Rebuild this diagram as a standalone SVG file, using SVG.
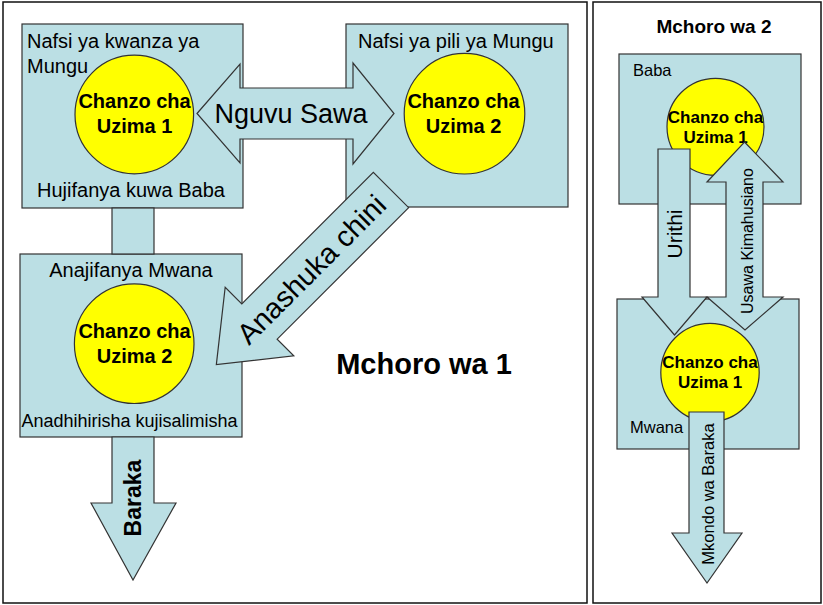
<svg xmlns="http://www.w3.org/2000/svg" width="823" height="605" viewBox="0 0 823 605">
<style>
.frame{fill:#ffffff;stroke:#111111;stroke-width:1.5}
.box{fill:#bbdfe4;stroke:#333333;stroke-width:1.2}
.circ{fill:#ffff00;stroke:#333333;stroke-width:1.2}
.arr{fill:#bbdfe4;stroke:#333333;stroke-width:1.2;stroke-linejoin:miter}
text{font-family:"Liberation Sans",Arial,Helvetica,sans-serif;fill:#000000}
.lbl{font-size:20px}
.ct{font-size:20px;font-weight:bold;text-anchor:middle}
.cts{font-size:17px;font-weight:bold;text-anchor:middle}
.mid{text-anchor:middle}
</style>
<rect class="frame" x="3" y="2" width="584" height="601"/>
<rect class="frame" x="593" y="2" width="228" height="601"/>

<g id="nodes">
  <g id="box1">
    <rect class="box" x="22" y="24" width="221" height="184"/>
    <text class="lbl" x="27" y="48">Nafsi ya kwanza ya</text>
    <text class="lbl" x="27" y="73">Mungu</text>
    <circle class="circ" cx="134.3" cy="114.5" r="59.3"/>
    <text class="ct" x="134.5" y="108">Chanzo cha</text>
    <text class="ct" x="134.5" y="133">Uzima 1</text>
    <text class="lbl mid" x="131" y="197">Hujifanya kuwa Baba</text>
  </g>
  <g id="box2">
    <rect class="box" x="346" y="24" width="222" height="183"/>
    <text class="lbl" x="358" y="48">Nafsi ya pili ya Mungu</text>
    <circle class="circ" cx="464.5" cy="113.7" r="60.3"/>
    <text class="ct" x="463.5" y="108">Chanzo cha</text>
    <text class="ct" x="463.5" y="133">Uzima 2</text>
  </g>
  <g id="box3">
    <rect class="box" x="20" y="254" width="222" height="183"/>
    <text class="lbl mid" x="131" y="277">Anajifanya Mwana</text>
    <circle class="circ" cx="134.2" cy="343.7" r="59.8"/>
    <text class="ct" x="134.5" y="338">Chanzo cha</text>
    <text class="ct" x="134.5" y="363">Uzima 2</text>
    <text class="mid" x="129.5" y="427" font-size="18">Anadhihirisha kujisalimisha</text>
  </g>
  <g id="title1">
    <text x="424" y="374" font-size="29" font-weight="bold" text-anchor="middle">Mchoro wa 1</text>
  </g>
  <g id="title2">
    <text x="714" y="33" font-size="19" font-weight="bold" text-anchor="middle">Mchoro wa 2</text>
  </g>
  <g id="baba">
    <rect class="box" x="619" y="54" width="182" height="150"/>
    <text x="633" y="76" font-size="16.5">Baba</text>
    <circle class="circ" cx="715.5" cy="126.8" r="48.5"/>
    <text class="cts" x="715.5" y="123">Chanzo cha</text>
    <text class="cts" x="715.5" y="143">Uzima 1</text>
  </g>
  <g id="mwana">
    <rect class="box" x="617" y="299" width="182" height="150"/>
    <text x="630" y="433" font-size="16.5">Mwana</text>
    <circle class="circ" cx="710" cy="372.5" r="49.2"/>
    <text class="cts" x="710" y="368">Chanzo cha</text>
    <text class="cts" x="710" y="388">Uzima 1</text>
  </g>
</g>

<g id="connectors">
  <rect class="arr" x="112" y="208" width="42" height="46"/>
  <g id="nguvu-sawa">
    <polygon class="arr" points="197,113.5 240,64 240,88 353,88 353,63 394,113.5 353,164 353,139 240,139 240,163"/>
    <text x="291" y="123" font-size="27" text-anchor="middle">Nguvu Sawa</text>
  </g>
  <g id="anashuka">
    <polygon class="arr" transform="translate(391,190) rotate(135)" points="0,-25 186,-25 186,-48.5 247,0 186,48.5 186,25 0,25"/>
    <text x="318.5" y="276.5" font-size="29" text-anchor="middle" transform="rotate(-45 318.5 276.5)">Anashuka chini</text>
  </g>
  <g id="baraka">
    <polygon class="arr" points="112,437 154,437 154,503 176,503 133,580 91,503 112,503"/>
    <text x="141" y="498" font-size="23" font-weight="bold" text-anchor="middle" transform="rotate(-90 141 498)">Baraka</text>
  </g>
  <g id="urithi">
    <polygon class="arr" points="658,149 690,149 690,297 707,297 674.5,335 642,297 658,297"/>
    <text x="682" y="234" font-size="21" text-anchor="middle" transform="rotate(-90 682 234)">Urithi</text>
  </g>
  <g id="usawa">
    <polygon class="arr" points="744.5,142 783,182 763,182 763,297 783,297 745,330 707,297 726,297 726,182 707,182"/>
    <text x="753" y="241" font-size="16" text-anchor="middle" transform="rotate(-90 753 241)">Usawa Kimahusiano</text>
  </g>
  <g id="mkondo">
    <polygon class="arr" points="689,412 724,412 724,533 742,533 707,583 672,533 689,533"/>
    <text x="714" y="494" font-size="16.5" text-anchor="middle" transform="rotate(-90 714 494)">Mkondo wa Baraka</text>
  </g>
</g>
</svg>
